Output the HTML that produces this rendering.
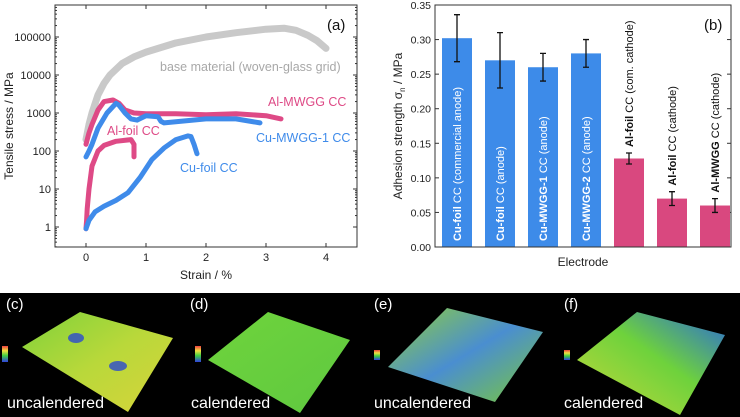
<!DOCTYPE html>
<html><head><meta charset="utf-8"><style>
html,body{margin:0;padding:0;background:#fff}
svg{display:block;font-family:"Liberation Sans",Arial,sans-serif}
</style></head><body>
<svg id="fig" width="740" height="417" viewBox="0 0 740 417" xmlns="http://www.w3.org/2000/svg">
<defs>
<linearGradient id="gc" x1="0" y1="0" x2="1" y2="1"><stop offset="0" stop-color="#7fd23a"/><stop offset="0.5" stop-color="#b9d83a"/><stop offset="1" stop-color="#d8d43a"/></linearGradient>
<linearGradient id="gd" x1="0" y1="0" x2="1" y2="1"><stop offset="0" stop-color="#6fd43c"/><stop offset="1" stop-color="#5fc840"/></linearGradient>
<linearGradient id="ge" x1="0" y1="0" x2="1" y2="1"><stop offset="0" stop-color="#8fd03a"/><stop offset="0.5" stop-color="#4a8ed0"/><stop offset="1" stop-color="#7ac83a"/></linearGradient>
<linearGradient id="gf" x1="0" y1="1" x2="1" y2="0"><stop offset="0" stop-color="#c8d83a"/><stop offset="0.55" stop-color="#6ed23c"/><stop offset="1" stop-color="#2a6ad8"/></linearGradient>
<linearGradient id="rb" x1="0" y1="0" x2="0" y2="1"><stop offset="0" stop-color="#f04040"/><stop offset="0.3" stop-color="#f0e040"/><stop offset="0.6" stop-color="#40d040"/><stop offset="1" stop-color="#3040e0"/></linearGradient>
</defs>
<g id="pa"></g>
<g id="pb"></g>
<g id="pc">
<rect x="0" y="293" width="740" height="124" fill="#000"/>
<polygon points="22,347 80,312 173,338 128,412" fill="url(#gc)"/>
<ellipse cx="76" cy="338" rx="8" ry="5" fill="#2a4ad0" opacity="0.8"/><ellipse cx="118" cy="366" rx="9" ry="5" fill="#2a4ad0" opacity="0.8"/>
<polygon points="208,360 268,312 350,340 300,413" fill="url(#gd)"/>
<polygon points="388,367 447,308 543,332 495,402" fill="url(#ge)"/>
<polygon points="577,360 637,312 725,335 680,415" fill="url(#gf)"/>
<rect x="2" y="346" width="6" height="16" fill="url(#rb)"/><rect x="195" y="346" width="6" height="16" fill="url(#rb)"/>
<rect x="374" y="350" width="6" height="10" fill="url(#rb)"/><rect x="564" y="350" width="6" height="10" fill="url(#rb)"/>
<g fill="#fff" font-size="15">
<text x="6" y="309">(c)</text>
<text x="190" y="309">(d)</text>
<text x="374" y="309">(e)</text>
<text x="564" y="309">(f)</text>
<text x="7" y="408" font-size="16">uncalendered</text>
<text x="191" y="408" font-size="16">calendered</text>
<text x="374" y="408" font-size="16">uncalendered</text>
<text x="564" y="408" font-size="16">calendered</text>
</g>
</g>
</svg>
<script>
// ---- Panel (a) data ----
const xTicksA=[0,1,2,3,4];
const yTicksA=[1,10,100,1000,10000,100000];
const baseX=[0,0.05,0.1,0.2,0.3,0.4,0.6,0.8,1,1.5,2,2.5,3,3.3,3.5,3.7,3.85,4];
const baseY=[200,500,1000,3000,6000,10000,20000,30000,40000,70000,100000,130000,160000,170000,150000,110000,80000,50000];
const almX=[0,0.05,0.1,0.2,0.3,0.45,0.55,0.65,0.8,1,1.5,2,2.5,3,3.25];
const almY=[150,300,500,1200,2000,2200,1800,1200,1000,950,950,900,950,850,700];
const cumX=[0,0.05,0.1,0.2,0.35,0.5,0.55,0.65,0.75,0.85,1,1.2,1.25,1.3,2,2.5,2.9];
const cumY=[70,100,150,400,1000,1800,1600,1000,700,650,850,800,600,550,700,700,550];
const alfX=[0,0.01,0.02,0.05,0.1,0.2,0.3,0.5,0.75,0.8,0.8];
const alfY=[0.9,1.5,3,10,40,100,140,180,200,150,70];
const cufX=[0,0.05,0.15,0.3,0.5,0.7,0.9,1.1,1.3,1.5,1.7,1.75,1.8,1.85];
const cufY=[0.9,1.5,2.5,3.5,5,8,20,60,120,200,250,240,150,85];
// ---- Panel (b) data ----
const barNames=["Cu-foil|CC (commercial anode)","Cu-foil|CC (anode)","Cu-MWGG-1|CC (anode)","Cu-MWGG-2|CC (anode)","Al-foil|CC (com. cathode)","Al-foil|CC (cathode)","Al-MWGG|CC (cathode)"];
const barVals=[0.302,0.270,0.260,0.280,0.128,0.070,0.060];
const barErr=[0.034,0.040,0.020,0.020,0.008,0.010,0.010];
const yTicksB=["0.00","0.05","0.10","0.15","0.20","0.25","0.30","0.35"];

const NS="http://www.w3.org/2000/svg";
function mk(p,t,a){const e=document.createElementNS(NS,t);for(const k in a)e.setAttribute(k,a[k]);p.appendChild(e);return e;}
const pa=document.getElementById('pa'), pb=document.getElementById('pb');
// axes a
const ax=v=>86+60*v, ay=v=>227-38*Math.log10(v);
const frA=mk(pa,'rect',{x:55,y:5,width:302,height:242,fill:'none',stroke:'#333','stroke-width':1});


xTicksA.forEach(v=>{mk(pa,'line',{x1:ax(v),x2:ax(v),y1:247,y2:243,stroke:'#333'});mk(pa,'line',{x1:ax(v),x2:ax(v),y1:5,y2:9,stroke:'#333'});
const t=mk(pa,'text',{x:ax(v),y:261,'text-anchor':'middle','font-size':11,fill:'#222'});t.textContent=v;

});
yTicksA.forEach(v=>{mk(pa,'line',{x1:55,x2:59,y1:ay(v),y2:ay(v),stroke:'#333'});mk(pa,'line',{x1:357,x2:353,y1:ay(v),y2:ay(v),stroke:'#333'});
for(let m=2;m<10;m++){const yy=ay(v*m);if(yy>5){mk(pa,'line',{x1:55,x2:57,y1:yy,y2:yy,stroke:'#333'});mk(pa,'line',{x1:357,x2:355,y1:yy,y2:yy,stroke:'#333'});}}
const t=mk(pa,'text',{x:51,y:ay(v)+4,'text-anchor':'end','font-size':11,fill:'#222'});t.textContent=v;

});
for(let m=3;m<10;m++){const yy=ay(0.1*m);if(yy<247){mk(pa,'line',{x1:55,x2:57,y1:yy,y2:yy,stroke:'#333'});}}
function series(xs,ys,col,name,w){const d=xs.map((x,i)=>(i?'L':'M')+ax(x).toFixed(1)+','+ay(ys[i]).toFixed(1)).join('');
const p=mk(pa,'path',{d:d,fill:'none',stroke:col,'stroke-width':w,'stroke-linejoin':'round','stroke-linecap':'round'});

}
series(baseX,baseY,'#c9c9c9','base-material-line',7);
series(alfX,alfY,'#de4a86','al-foil-line',5);
series(cufX,cufY,'#3f8bea','cu-foil-line',5);
series(almX,almY,'#de4a86','al-mwgg-line',5);
series(cumX,cumY,'#3f8bea','cu-mwgg-1-line',5);
function lbl(p,x,y,s,txt,col,name,extra){const t=mk(p,'text',Object.assign({x:x,y:y,'font-size':s,fill:col},extra||{}));t.textContent=txt;

return t;}
lbl(pa,327,30,15,'(a)','#111','panel-label-a');
lbl(pa,160,71,12.5,'base material (woven-glass grid)','#a8a8a8','base-material-label');
lbl(pa,268,106,12.5,'Al-MWGG CC','#de4a86','al-mwgg-label');
lbl(pa,256,142,12.5,'Cu-MWGG-1 CC','#3f8bea','cu-mwgg-1-label');
lbl(pa,107,135,12.5,'Al-foil CC','#de4a86','al-foil-label');
lbl(pa,180,172,12.5,'Cu-foil CC','#3f8bea','cu-foil-label');
lbl(pa,206,279,12,'Strain / %','#222','x-axis-title',{'text-anchor':'middle'});
lbl(pa,13,126,12,'Tensile stress / MPa','#222','y-axis-title',{'text-anchor':'middle',transform:'rotate(-90 13 126)'});
// axes b
const bx=i=>457+43*i, by=v=>247-242*v/0.35;
yTicksB.forEach(s=>{const v=parseFloat(s);mk(pb,'line',{x1:435,x2:439,y1:by(v),y2:by(v),stroke:'#333'});mk(pb,'line',{x1:731,x2:727,y1:by(v),y2:by(v),stroke:'#333'});
const t=lbl(pb,431,by(v)+4,10.5,s,'#222','y-tick-label-b',{'text-anchor':'end'});});
barVals.forEach((v,i)=>{const blue=i<4;
const r=mk(pb,'rect',{x:bx(i)-15,y:by(v),width:30,height:247-by(v),fill:blue?'#3d8be9':'#d9487f'});


const e=barErr[i],c=bx(i);
mk(pb,'path',{d:`M${c},${by(v+e)}V${by(v-e)}M${c-3},${by(v+e)}H${c+3}M${c-3},${by(v-e)}H${c+3}`,stroke:'#111','stroke-width':1.3,fill:'none'});
const [b,rest]=barNames[i].split('|');
const ty=blue?241:by(v+e)-6;
const t=mk(pb,'text',{x:c+4,y:ty,'font-size':11,fill:blue?'#fff':'#111',transform:`rotate(-90 ${c+4} ${ty})`});
const s1=mk(t,'tspan',{'font-weight':'bold'});s1.textContent=b;const s2=mk(t,'tspan',{});s2.textContent=' '+rest;

});
const frB=mk(pb,'rect',{x:435,y:5,width:296,height:242,fill:'none',stroke:'#333','stroke-width':1});


lbl(pb,704,30,15,'(b)','#111','panel-label-b');
lbl(pb,583,266,12,'Electrode','#222','x-axis-title-b',{'text-anchor':'middle'});
const yt=lbl(pb,402,126,12,'Adhesion strength σ','#222','y-axis-title-b',{'text-anchor':'middle',transform:'rotate(-90 402 126)'});
const sub=mk(yt,'tspan',{'font-size':8,dy:3});sub.textContent='n';const rest2=mk(yt,'tspan',{dy:-3});rest2.textContent=' / MPa';
</script>
</body></html>
